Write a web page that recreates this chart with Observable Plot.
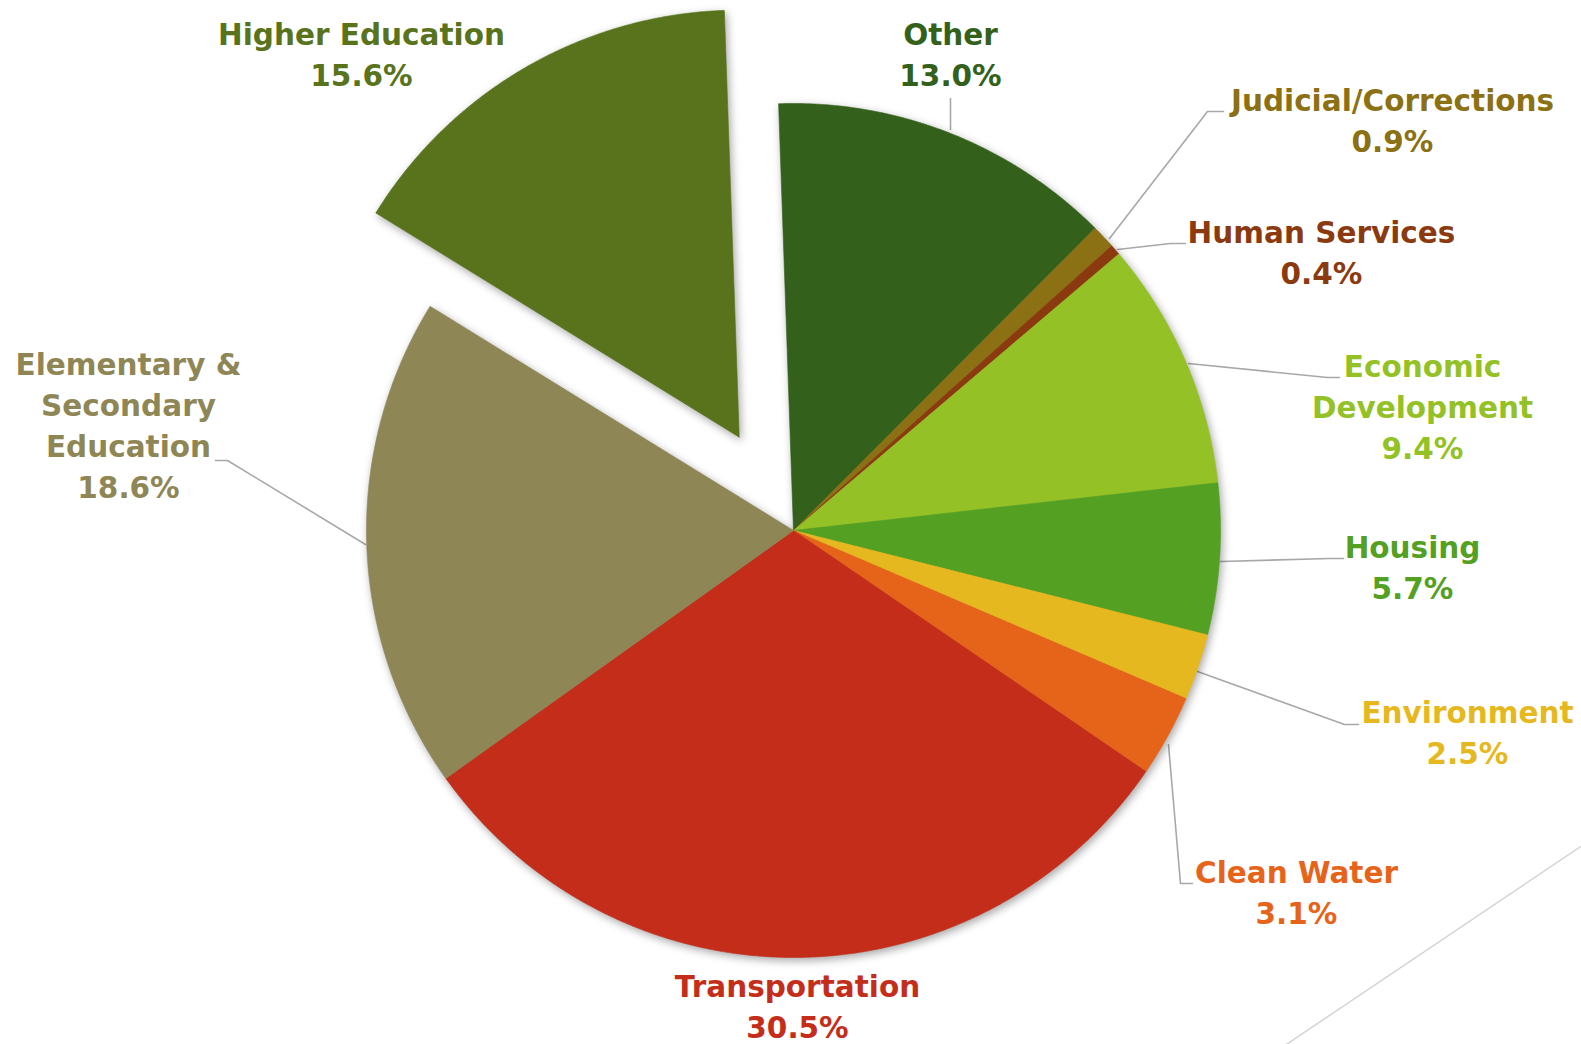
<!DOCTYPE html>
<html>
<head>
<meta charset="utf-8">
<script src="https://cdn.jsdelivr.net/npm/d3@7"></script>
<script src="https://cdn.jsdelivr.net/npm/@observablehq/plot@0.6"></script>
<style>
  html, body { margin: 0; padding: 0; background: #ffffff; }
  #chart svg { display: block; }
  #chart g.slices { filter: drop-shadow(2px 3px 4px rgba(0,0,0,0.35)); }
</style>
</head>
<body>
<div id="chart"></div>
<script>
// ---- data (clockwise from 12 o'clock) ----
const categories = ["Other", "Judicial/Corrections", "Human Services", "Economic Development",
  "Housing", "Environment", "Clean Water", "Transportation",
  "Elementary & Secondary Education", "Higher Education"];
const shares = [13.0, 0.9, 0.4, 9.4, 5.7, 2.5, 3.1, 30.5, 18.6, 15.6];
const labelLines = [
  ["Other"], ["Judicial/Corrections"], ["Human Services"], ["Economic", "Development"],
  ["Housing"], ["Environment"], ["Clean Water"], ["Transportation"],
  ["Elementary &", "Secondary", "Education"], ["Higher Education"]];
const colors = ["#33601a", "#8b7114", "#8b3a10", "#93c126", "#53a022", "#e6b820",
  "#e6641a", "#c32d1a", "#8f8656", "#58731b"];
const exploded = ["Higher Education"];

// ---- layout (pixels) ----
const W = 1581, H = 1044;
const cx = 793, cy = 530, R = 427, explodeBy = 108;
const startDeg = -2;
// label block centres
const labelPos = {
  "Other": [950, 52],
  "Judicial/Corrections": [1392, 118],
  "Human Services": [1321, 250],
  "Economic Development": [1422, 404],
  "Housing": [1412, 565],
  "Environment": [1467, 730],
  "Clean Water": [1296, 890],
  "Transportation": [797, 1004],
  "Elementary & Secondary Education": [128, 423],
  "Higher Education": [361, 52]
};
const leaders = {
  "Other": [[950, 129], [950, 98]],
  "Judicial/Corrections": [[1109, 238], [1207, 111], [1223, 111]],
  "Human Services": [[1117, 249], [1170, 243], [1185, 243]],
  "Economic Development": [[1188, 363], [1327, 377], [1339, 377]],
  "Housing": [[1220, 561], [1329, 558], [1343, 558]],
  "Environment": [[1197, 671], [1344, 724], [1358, 724]],
  "Clean Water": [[1168, 744], [1180, 883], [1192, 883]],
  "Elementary & Secondary Education": [[365, 544], [227, 460], [215, 460]]
};
const decoLine = [[1610, 826], [1262, 1060]];

// ---- build geometry ----
const rows = categories.map((c, i) => ({name: c, value: shares[i], color: colors[i], lines: labelLines[i]}));
const arcs = d3.pie().sort(null).value(d => d.value)
  .startAngle(startDeg * Math.PI / 180).endAngle(startDeg * Math.PI / 180 + 2 * Math.PI)(rows);

const slicePts = [];
arcs.forEach(a => {
  const d = a.data;
  const mid = (a.startAngle + a.endAngle) / 2;
  const off = exploded.includes(d.name) ? explodeBy : 0;
  const ox = cx + off * Math.sin(mid), oy = cy - off * Math.cos(mid);
  slicePts.push({name: d.name, color: d.color, x: ox, y: oy});
  const n = Math.max(4, Math.ceil((a.endAngle - a.startAngle) / 0.005));
  for (let k = 0; k <= n; k++) {
    const t = a.startAngle + (a.endAngle - a.startAngle) * k / n;
    slicePts.push({name: d.name, color: d.color, x: ox + R * Math.sin(t), y: oy - R * Math.cos(t)});
  }
  slicePts.push({name: d.name, color: d.color, x: ox, y: oy});
});

const leaderPts = [];
Object.entries(leaders).forEach(([k, pts]) => pts.forEach(p => leaderPts.push({name: k, x: p[0], y: p[1]})));

const labels = rows.map(d => ({
  name: d.name, color: d.color,
  text: [...d.lines, d.value.toFixed(1) + "%"].join("\n"),
  x: labelPos[d.name][0], y: labelPos[d.name][1]
}));

const chart = Plot.plot({
  width: W, height: H,
  margin: 0,
  x: {domain: [0, W], range: [0, W], axis: null},
  y: {domain: [0, H], range: [0, H], axis: null},
  color: {type: "identity"},
  style: {background: "#ffffff"},
  marks: [
    Plot.line(decoLine.map(p => ({x: p[0], y: p[1]})), {x: "x", y: "y", stroke: "#d4d4d4", strokeWidth: 1.5}),
    Plot.line(leaderPts, {x: "x", y: "y", z: "name", stroke: "#a8a8a8", strokeWidth: 1.6, curve: "linear"}),
    Plot.line(slicePts, {x: "x", y: "y", z: "name", fill: "color", stroke: "color", strokeWidth: 0.6, curve: "linear", className: "slices"}),
    Plot.text(labels, {x: "x", y: "y", text: "text", fill: "color", fontSize: 29.5, fontWeight: "bold",
      fontFamily: "'DejaVu Sans', sans-serif", lineHeight: 1.39, textAnchor: "middle"})
  ]
});
document.getElementById("chart").appendChild(chart);
</script>
</body>
</html>
